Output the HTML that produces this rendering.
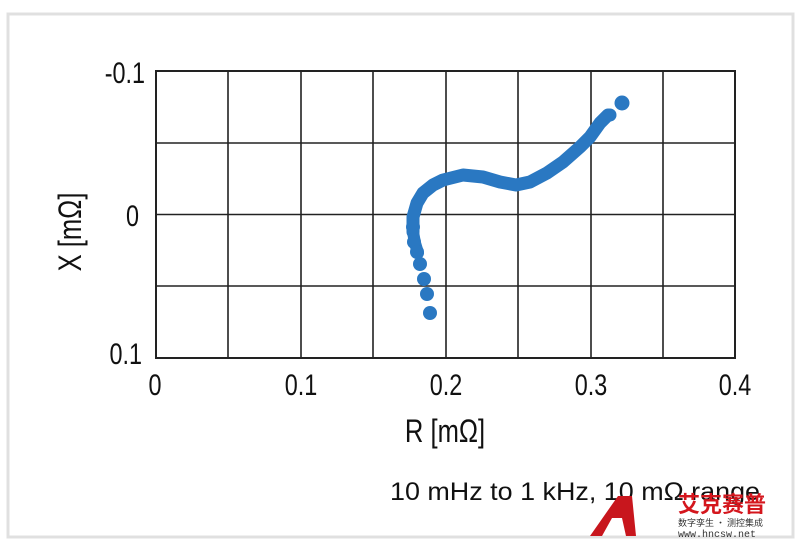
<!DOCTYPE html>
<html><head><meta charset="utf-8"><style>
body{margin:0;background:#fff;}
svg{display:block;font-family:"Liberation Sans",sans-serif;}
</style></head><body>
<svg width="802" height="546" viewBox="0 0 802 546" xmlns="http://www.w3.org/2000/svg">
<rect x="0" y="0" width="802" height="546" fill="#fff"/>
<rect x="8" y="14" width="785" height="523" fill="none" stroke="#e0e0e0" stroke-width="3"/>
<g stroke="#222" stroke-width="1.6" fill="none">
<line x1="228" y1="71" x2="228" y2="358"/><line x1="301" y1="71" x2="301" y2="358"/>
<line x1="373" y1="71" x2="373" y2="358"/><line x1="446" y1="71" x2="446" y2="358"/>
<line x1="518" y1="71" x2="518" y2="358"/><line x1="591" y1="71" x2="591" y2="358"/>
<line x1="663" y1="71" x2="663" y2="358"/>
<line x1="156" y1="143" x2="735" y2="143"/><line x1="156" y1="214.5" x2="735" y2="214.5"/>
<line x1="156" y1="286" x2="735" y2="286"/>
<rect x="156" y="71" width="579" height="287" stroke-width="2"/>
</g>
<g fill="none" stroke="#2a78c2" stroke-linecap="round" stroke-linejoin="round">
<path d="M413,232 L413,217 L417,203 L423,193 L433,185 L443,180 L463,175 L483,177 L500,182 L516,185 L530,182 L547,173 L563,162 L580,147 L590,137 L600,123 L608,115" stroke-width="13"/>
<path d="M413,232 L415,243 L418,253" stroke-width="12"/>
</g>
<g fill="#2a78c2">
<circle cx="413" cy="227" r="7"/><circle cx="414" cy="242" r="7"/><circle cx="417" cy="252" r="7"/>
<circle cx="420" cy="264" r="7"/><circle cx="424" cy="279" r="7"/><circle cx="427" cy="294" r="7"/>
<circle cx="430" cy="313" r="7"/><circle cx="622" cy="103" r="7.5"/><circle cx="610" cy="115" r="6.5"/>
</g>
<g fill="#111" font-size="30" text-anchor="end">
<text x="145" y="83" transform="translate(145 0) scale(0.78 1) translate(-145 0)">-0.1</text>
<text x="139" y="226" transform="translate(139 0) scale(0.78 1) translate(-139 0)">0</text>
<text x="142" y="364" transform="translate(142 0) scale(0.78 1) translate(-142 0)">0.1</text>
</g>
<g fill="#111" font-size="30" text-anchor="middle">
<text x="155" y="395" transform="translate(155 0) scale(0.78 1) translate(-155 0)">0</text>
<text x="301" y="395" transform="translate(301 0) scale(0.78 1) translate(-301 0)">0.1</text>
<text x="446" y="395" transform="translate(446 0) scale(0.78 1) translate(-446 0)">0.2</text>
<text x="591" y="395" transform="translate(591 0) scale(0.78 1) translate(-591 0)">0.3</text>
<text x="735" y="395" transform="translate(735 0) scale(0.78 1) translate(-735 0)">0.4</text>
<text x="445" y="442" font-size="32" transform="translate(445 0) scale(0.8 1) translate(-445 0)">R [mΩ]</text>
<text transform="translate(81 232) rotate(-90) scale(0.8 1)" font-size="32">X [mΩ]</text>
</g>
<text x="390" y="500" font-size="25" fill="#111" textLength="370" lengthAdjust="spacingAndGlyphs">10 mHz to 1 kHz, 10 mΩ range</text>
<polygon points="590,536 618,496 632,496 636,536 626,536 622,518 612,518 602,536" fill="#c8161d"/>
<text x="678" y="512" font-size="22" font-weight="bold" fill="#d4161d" font-family="'Noto Sans CJK SC',sans-serif">艾克赛普</text>
<text x="678" y="526" font-size="9" fill="#333" font-family="'Noto Sans CJK SC',sans-serif">数字孪生 · 测控集成</text>
<text x="678" y="537" font-size="10" fill="#333" font-family="'Liberation Mono',monospace">www.hncsw.net</text>
</svg>
</body></html>
